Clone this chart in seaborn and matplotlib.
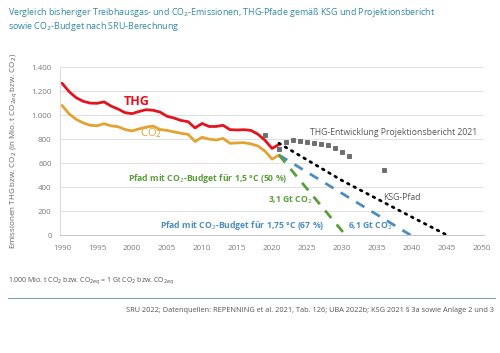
import matplotlib
matplotlib.use("Agg")
import matplotlib.pyplot as plt
import seaborn as sns
import pandas as pd

# historical emissions (Mio. t)
years_hist = list(range(1990, 2022))
thg = [1265, 1195, 1145, 1115, 1100, 1098, 1110, 1075, 1050, 1020, 1012, 1030, 1045,
       1040, 1025, 990, 975, 955, 945, 893, 930, 905, 905, 915, 878, 876, 878, 872,
       840, 790, 722, 755]
co2 = [1080, 1010, 965, 935, 915, 911, 928, 910, 903, 880, 868, 885, 900, 908, 880,
       872, 860, 848, 840, 780, 815, 800, 792, 806, 765, 768, 770, 760, 742, 700,
       633, 667]

# Projektionsbericht 2021
years_proj = [2019, 2021, 2022, 2023, 2024, 2025, 2026, 2027, 2028, 2029, 2030, 2031, 2036]
proj = [833, 720, 778, 790, 786, 778, 769, 760, 748, 722, 695, 660, 542]

# KSG path
years_ksg = [2021, 2030, 2040, 2045]
ksg = [765, 455, 150, 0]

# CO2 budget paths
years_15 = [2021, 2030.5]
budget_15 = [667, 0]
years_175 = [2021, 2039.8]
budget_175 = [667, 0]

yticks = [0, 200, 400, 600, 800, 1000, 1200, 1400]
ytick_labels = ["0", "200", "400", "600", "800", "1.000", "1.200", "1.400"]
xticks = list(range(1990, 2051, 5))

RED = "#e3141e"
ORANGE = "#e3a232"
GREEN = "#5a9e3c"
BLUE = "#4b8dc2"
TEAL = "#2f88a6"
GREY = "#7a7a7a"

sns.set_theme(style="white")
plt.rcParams["font.family"] = ["Open Sans", "DejaVu Sans"]

fig = plt.figure(figsize=(5.0, 3.53), dpi=100)
ax = fig.add_axes([0.12, 0.334, 0.848, 0.476])

hist = pd.DataFrame({"Jahr": years_hist, "THG": thg, "CO2": co2})
sns.lineplot(data=hist, x="Jahr", y="THG", color=RED, lw=2.0, ax=ax)
sns.lineplot(data=hist, x="Jahr", y="CO2", color=ORANGE, lw=2.0, ax=ax)

ax.plot(years_175, budget_175, color=BLUE, lw=2.0, dashes=(3.5, 3.0))
ax.plot(years_15, budget_15, color=GREEN, lw=2.0, dashes=(3.5, 3.0))
ax.plot(years_ksg, ksg, color="black", lw=2.0, linestyle=(0, (0.6, 2.0)),
        dash_capstyle="round")
ax.scatter(years_proj, proj, marker="s", s=9, color="#6e6e6e",
           edgecolor="#555555", linewidth=0.5, zorder=5)

ax.set_xlim(1989.7, 2050.3)
ax.set_ylim(0, 1400)
ax.set_yticks(yticks)
ax.set_yticklabels(ytick_labels)
ax.set_xticks(xticks)
ax.set_xticks(range(1990, 2051), minor=True)
ax.tick_params(axis="both", labelsize=5.8, colors=GREY, length=0, pad=6)
ax.tick_params(axis="x", which="both", direction="in", length=2.5, width=0.5,
               color="#bbbbbb", labelcolor=GREY, pad=7)
ax.tick_params(axis="y", length=0)
ax.grid(axis="y", color="#dcdcdc", lw=0.6)
ax.set_xlabel("")
ax.set_ylabel("Emissionen THG bzw. CO$_2$ (in Mio. t CO$_{2eq}$ bzw. CO$_2$)",
              fontsize=5.8, color="#666666", labelpad=8)
for side in ["top", "right"]:
    ax.spines[side].set_visible(False)
ax.spines["left"].set_color("#d5d5d5")
ax.spines["bottom"].set_color("#bbbbbb")
ax.spines["left"].set_linewidth(0.6)
ax.spines["bottom"].set_linewidth(0.6)

# annotations
ax.text(2000.6, 1117, "THG", color=RED, fontsize=9, fontweight="bold", ha="center", va="center")
ax.text(2002.7, 850, "CO$_2$", color=ORANGE, fontsize=8, ha="center", va="center")
ax.text(2025.4, 858, "THG-Entwicklung Projektionsbericht 2021", color="#555555",
        fontsize=6.2, va="center")
ax.text(2035.9, 310, "KSG-Pfad", color="#555555", fontsize=6.2, va="center")
ax.text(1999.4, 475, "Pfad mit CO$_2$-Budget für 1,5 °C (50 %)", color=GREEN,
        fontsize=6.2, fontweight="bold", va="center")
ax.text(2019.4, 292, "3,1 Gt CO$_2$", color=GREEN, fontsize=6.2, fontweight="bold", va="center")
ax.text(2004.0, 78, "Pfad mit CO$_2$-Budget für 1,75 °C (67 %)", color=BLUE,
        fontsize=6.2, fontweight="bold", va="center")
ax.text(2030.9, 72, "6,1 Gt CO$_2$", color=BLUE, fontsize=6.2, fontweight="bold", va="center")

fig.text(0.016, 0.965, "Vergleich bisheriger Treibhausgas- und CO$_2$-Emissionen, THG-Pfade gemäß KSG und Projektionsbericht",
         color=TEAL, fontsize=6.4, va="center")
fig.text(0.016, 0.925, "sowie CO$_2$-Budget nach SRU-Berechnung", color=TEAL, fontsize=6.4, va="center")
fig.text(0.016, 0.204, "1.000 Mio. t CO$_2$ bzw. CO$_{2eq}$ = 1 Gt CO$_2$ bzw. CO$_{2eq}$",
         color="#555555", fontsize=5.0, va="center")
fig.add_artist(plt.Line2D([0.016, 0.99], [0.155, 0.155], color="#6aa39a", lw=0.7))
fig.text(0.988, 0.12, "SRU 2022; Datenquellen: REPENNING et al. 2021, Tab. 126; UBA 2022b; KSG 2021 § 3a sowie Anlage 2 und 3",
         color="#555555", fontsize=5.3, ha="right", va="center")

fig.savefig("out.png", dpi=100, facecolor="white")
